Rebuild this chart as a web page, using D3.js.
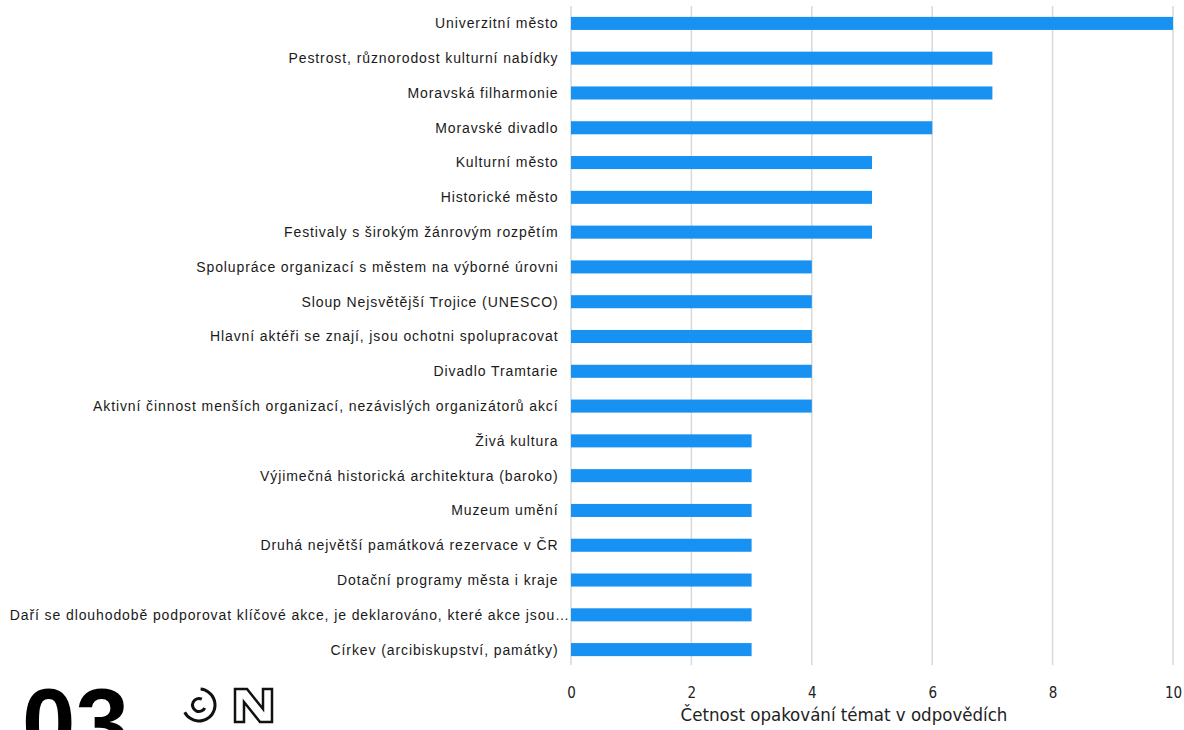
<!DOCTYPE html>
<html>
<head>
<meta charset="utf-8">
<script src="https://cdn.jsdelivr.net/npm/d3@7"></script>
<style>
  html, body { margin: 0; padding: 0; background: #fff; }
  svg { display: block; }
</style>
</head>
<body>
<svg id="chart" width="1184" height="730"></svg>
<script>
const categories = [
  "Univerzitní město",
  "Pestrost, různorodost kulturní nabídky",
  "Moravská filharmonie",
  "Moravské divadlo",
  "Kulturní město",
  "Historické město",
  "Festivaly s širokým žánrovým rozpětím",
  "Spolupráce organizací s městem na výborné úrovni",
  "Sloup Nejsvětější Trojice (UNESCO)",
  "Hlavní aktéři se znají, jsou ochotni spolupracovat",
  "Divadlo Tramtarie",
  "Aktivní činnost menších organizací, nezávislých organizátorů akcí",
  "Živá kultura",
  "Výjimečná historická architektura (baroko)",
  "Muzeum umění",
  "Druhá největší památková rezervace v ČR",
  "Dotační programy města i kraje",
  "Daří se dlouhodobě podporovat klíčové akce, je deklarováno, které akce jsou…",
  "Církev (arcibiskupství, památky)"
];
const values = [10, 7, 7, 6, 5, 5, 5, 4, 4, 4, 4, 4, 3, 3, 3, 3, 3, 3, 3];
const xTicks = [0, 2, 4, 6, 8, 10];
const xTitle = "Četnost opakování témat v odpovědích";
const badgeNumber = "03";

const svg = d3.select("#chart");
const plotLeft = 571, plotRight = 1173, plotTop = 6, plotBottom = 667;

const x = d3.scaleLinear().domain([0, 10]).range([plotLeft, plotRight]);
const y = d3.scaleBand().domain(categories).range([plotTop, plotBottom]).paddingInner(0.625).paddingOuter(0.3125);

// gridlines
svg.append("g").selectAll("line").data(xTicks).join("line")
  .attr("x1", d => x(d)).attr("x2", d => x(d))
  .attr("y1", plotTop).attr("y2", 665)
  .attr("stroke", "#d9d9d9").attr("stroke-width", 1.5);

// bars
svg.append("g").selectAll("rect").data(values).join("rect")
  .attr("x", x(0))
  .attr("y", (d, i) => y(categories[i]))
  .attr("width", d => x(d) - x(0))
  .attr("height", y.bandwidth())
  .attr("fill", "#1791f2");

// category labels
svg.append("g").selectAll("text").data(categories).join("text")
  .attr("x", d => d.endsWith("…") ? 570 : 558.5)
  .attr("y", d => y(d) + y.bandwidth() / 2)
  .attr("dy", "0.35em")
  .attr("text-anchor", "end")
  .attr("font-family", "'Liberation Sans', Arial, sans-serif")
  .attr("font-size", 14)
  .attr("letter-spacing", "0.9px")
  .attr("fill", "#1a1a1a")
  .text(d => d);

// x axis tick labels
const xAxis = d3.axisBottom(x).tickValues(xTicks).tickSize(0).tickPadding(0);
const ax = svg.append("g").attr("transform", "translate(0,687)").call(xAxis);
ax.select(".domain").remove();
ax.selectAll("text")
  .attr("font-family", "'Liberation Sans Narrow', 'DejaVu Sans Condensed', sans-serif")
  .attr("font-size", 15)
  .attr("fill", "#222");

// x title
svg.append("text")
  .attr("x", 844).attr("y", 721)
  .attr("text-anchor", "middle")
  .attr("font-family", "'Liberation Sans Narrow', 'DejaVu Sans Condensed', sans-serif")
  .attr("font-size", 18.5)
  .attr("fill", "#222")
  .text(xTitle);

// badge number
svg.append("text")
  .attr("x", 22).attr("y", 756)
  .attr("font-family", "'Liberation Sans', Arial, sans-serif")
  .attr("font-weight", "bold")
  .attr("font-size", 96)
  .attr("fill", "#000")
  .text(badgeNumber);

// logo
const logo = svg.append("g").attr("transform", "translate(199,705)");
const arcOuter = d3.arc().innerRadius(14.5).outerRadius(17.5)
  .startAngle(0.1).endAngle(Math.PI * 1.35);
logo.append("path").attr("d", arcOuter()).attr("fill", "#111");
const arcInner = d3.arc().innerRadius(5).outerRadius(8)
  .startAngle(Math.PI * 0.65).endAngle(Math.PI * 2 + 0.45);
logo.append("path").attr("d", arcInner()).attr("fill", "#111");

const nx = 235, ny = 689, nw = 37, nh = 33, t = 9;
const nPts = [[0,0],[t+3,0],[nw-t,nh-13],[nw-t,0],[nw,0],[nw,nh],[nw-t-3,nh],[t,13],[t,nh],[0,nh]];
svg.append("path")
  .attr("d", d3.line()(nPts.map(p => [nx + p[0], ny + p[1]])) + "Z")
  .attr("fill", "#fff").attr("stroke", "#111").attr("stroke-width", 2.5)
  .attr("stroke-linejoin", "miter");
</script>
</body>
</html>
